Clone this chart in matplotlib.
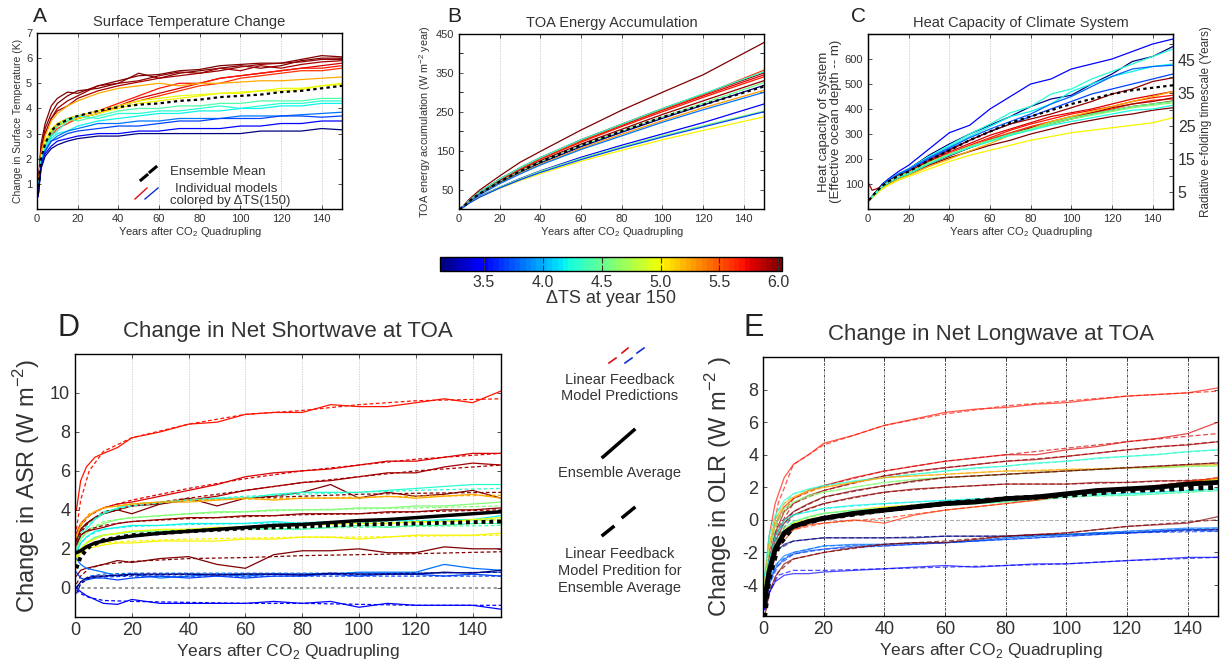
import numpy as np
import matplotlib
matplotlib.use('Agg')
import matplotlib.pyplot as plt
from matplotlib import colors
from matplotlib.colorbar import ColorbarBase
from matplotlib.lines import Line2D

plt.rcParams['font.family'] = ['Liberation Sans', 'DejaVu Sans']
plt.rcParams['mathtext.fontset'] = 'custom'
plt.rcParams['mathtext.rm'] = 'Liberation Sans'
plt.rcParams['axes.unicode_minus'] = False
TXT = '#333333'

# ---------------- data ----------------
years = [0.5, 2, 4, 7, 10, 15, 20, 30, 40, 50, 60, 70, 80, 90, 100, 110, 120, 130, 140, 150]
years_pred = [0.5, 2, 5, 10, 20, 40, 60, 80, 100, 120, 150]
years_toa = [0, 2, 5, 10, 20, 30, 40, 60, 80, 100, 120, 150]

# Panel A: surface temperature change (K), colour value = dTS(150)
temp_dts = [6.1, 6.0, 5.95, 5.9, 5.8, 5.7, 5.6, 5.25, 5.0, 4.95, 4.4, 4.3, 4.2, 3.85, 3.7, 3.5, 3.15]
temp_vals = [
    [0.9, 2.6, 3.4, 4.1, 4.4, 4.65, 4.6, 4.9, 5.1, 5.3, 5.35, 5.5, 5.55, 5.7, 5.75, 5.8, 5.8, 5.95, 6.1, 6.05],
    [0.8, 2.4, 3.2, 3.8, 4.2, 4.5, 4.7, 4.8, 5.0, 5.4, 5.2, 5.4, 5.5, 5.6, 5.7, 5.6, 5.7, 5.9, 6.0, 6.0],
    [0.8, 2.3, 3.0, 3.6, 4.0, 4.3, 4.5, 4.9, 5.0, 5.1, 5.3, 5.45, 5.4, 5.5, 5.65, 5.75, 5.8, 5.85, 5.95, 5.95],
    [0.7, 2.2, 3.0, 3.6, 3.9, 4.1, 4.4, 4.7, 4.9, 5.05, 5.2, 5.3, 5.4, 5.6, 5.5, 5.7, 5.6, 5.75, 5.85, 5.9],
    [0.6, 1.9, 2.5, 3.0, 3.3, 3.5, 3.6, 3.8, 4.1, 4.4, 4.6, 4.8, 5.0, 5.2, 5.3, 5.4, 5.5, 5.6, 5.7, 5.8],
    [0.6, 1.9, 2.6, 3.1, 3.4, 3.6, 3.7, 3.9, 4.2, 4.5, 4.8, 5.0, 5.0, 5.2, 5.3, 5.4, 5.5, 5.6, 5.6, 5.7],
    [0.5, 1.8, 2.4, 2.9, 3.2, 3.4, 3.6, 3.8, 4.1, 4.3, 4.5, 4.7, 4.9, 5.0, 5.2, 5.3, 5.4, 5.5, 5.5, 5.6],
    [0.7, 2.2, 2.9, 3.5, 3.8, 4.1, 4.3, 4.6, 4.8, 4.9, 5.0, 4.9, 5.0, 5.0, 5.05, 5.1, 5.1, 5.15, 5.2, 5.25],
    [0.6, 2.0, 2.6, 3.1, 3.3, 3.5, 3.6, 3.8, 4.0, 4.2, 4.3, 4.4, 4.5, 4.6, 4.6, 4.7, 4.7, 4.75, 4.9, 5.0],
    [0.6, 2.0, 2.7, 3.2, 3.4, 3.6, 3.7, 3.9, 4.1, 4.3, 4.4, 4.5, 4.55, 4.6, 4.65, 4.7, 4.8, 4.8, 4.9, 4.95],
    [0.6, 1.9, 2.5, 3.0, 3.3, 3.6, 3.5, 3.7, 3.9, 4.0, 4.0, 4.1, 4.1, 4.2, 4.2, 4.3, 4.3, 4.3, 4.4, 4.4],
    [0.6, 1.9, 2.4, 2.9, 3.1, 3.5, 3.7, 3.6, 3.8, 3.8, 3.9, 3.9, 4.0, 4.1, 4.0, 4.1, 4.2, 4.2, 4.3, 4.3],
    [0.6, 1.8, 2.4, 2.8, 3.0, 3.1, 3.3, 3.5, 3.6, 3.7, 3.8, 3.8, 3.9, 3.9, 4.0, 4.0, 4.1, 4.1, 4.2, 4.2],
    [0.5, 1.8, 2.3, 2.7, 2.9, 3.1, 3.2, 3.4, 3.4, 3.5, 3.5, 3.6, 3.6, 3.6, 3.7, 3.7, 3.7, 3.75, 3.8, 3.85],
    [0.5, 1.7, 2.3, 2.7, 2.8, 3.0, 3.1, 3.2, 3.3, 3.3, 3.4, 3.5, 3.5, 3.6, 3.6, 3.6, 3.7, 3.7, 3.65, 3.7],
    [0.5, 1.7, 2.2, 2.5, 2.7, 2.8, 2.9, 3.0, 3.0, 3.1, 3.1, 3.2, 3.2, 3.2, 3.3, 3.3, 3.4, 3.4, 3.5, 3.5],
    [0.5, 1.6, 2.1, 2.4, 2.55, 2.7, 2.8, 2.9, 2.9, 3.0, 3.0, 3.0, 3.0, 3.0, 3.0, 3.1, 3.1, 3.1, 3.2, 3.15],
]
temp_mean = [0.6, 2.0, 2.6, 3.1, 3.35, 3.55, 3.7, 3.9, 4.05, 4.15, 4.2, 4.3, 4.35, 4.45, 4.5, 4.55, 4.65, 4.7, 4.8, 4.9]

# Panel B: TOA energy accumulation (W m-2 year)
toa_dts = [6.0, 5.9, 5.8, 5.7, 5.6, 5.95, 4.3, 4.5, 3.2, 5.3, 3.85, 3.5, 4.6, 5.0, 3.7]
toa_vals = [
    [0, 7, 25, 48, 85, 120, 148, 203, 254, 300, 345, 428],
    [0, 6, 22, 43, 77, 106, 132, 178, 218, 258, 295, 350],
    [0, 6, 22, 42, 76, 104, 130, 175, 215, 254, 291, 345],
    [0, 6, 21, 41, 74, 102, 128, 172, 212, 250, 287, 340],
    [0, 6, 21, 42, 75, 104, 130, 176, 217, 256, 294, 357],
    [0, 6, 21, 40, 72, 99, 124, 167, 205, 243, 278, 330],
    [0, 6, 22, 43, 77, 106, 132, 178, 218, 258, 296, 353],
    [0, 5, 20, 39, 70, 97, 121, 163, 200, 237, 272, 325],
    [0, 5, 19, 38, 68, 94, 118, 160, 197, 233, 267, 318],
    [0, 5, 19, 37, 66, 92, 115, 156, 192, 227, 260, 305],
    [0, 5, 18, 36, 65, 90, 113, 153, 188, 223, 255, 300],
    [0, 4, 16, 32, 56, 78, 98, 133, 164, 193, 222, 270],
    [0, 4, 16, 31, 56, 77, 97, 130, 160, 188, 214, 252],
    [0, 4, 15, 30, 53, 73, 91, 123, 151, 178, 202, 237],
    [0, 4, 15, 30, 54, 75, 94, 127, 157, 185, 211, 250],
]
toa_mean = [0, 5, 20, 39, 70, 97, 121, 164, 200, 236, 268, 315]

# Panel C: heat capacity (effective ocean depth, m)
hc_dts = [3.5, 3.15, 4.3, 4.2, 3.8, 3.7, 5.95, 5.8, 5.7, 5.6, 5.9, 6.1, 6.0, 5.25, 5.0, 4.5, 4.6, 4.25]
hc_vals = [
    [35, 50, 70, 100, 120, 150, 175, 240, 305, 335, 400, 450, 500, 520, 560, 580, 600, 630, 660, 680],
    [35, 50, 68, 95, 115, 140, 160, 215, 260, 300, 335, 370, 410, 440, 455, 500, 540, 590, 610, 650],
    [35, 50, 68, 95, 115, 140, 160, 210, 255, 300, 340, 385, 410, 460, 480, 520, 550, 580, 610, 640],
    [35, 50, 68, 95, 115, 140, 160, 210, 250, 290, 330, 370, 390, 420, 470, 500, 530, 550, 570, 580],
    [35, 50, 68, 95, 115, 140, 160, 205, 245, 285, 320, 350, 380, 420, 450, 490, 530, 560, 570, 575],
    [35, 50, 68, 95, 113, 135, 155, 200, 240, 275, 310, 340, 370, 400, 430, 460, 480, 500, 520, 540],
    [35, 50, 68, 92, 110, 133, 150, 195, 235, 275, 310, 340, 360, 380, 405, 430, 460, 480, 510, 525],
    [35, 48, 65, 90, 108, 130, 148, 190, 228, 262, 295, 320, 345, 370, 385, 400, 420, 440, 455, 470],
    [35, 48, 65, 88, 105, 127, 145, 185, 222, 255, 285, 315, 340, 360, 380, 395, 410, 430, 445, 455],
    [40, 45, 65, 88, 105, 127, 145, 185, 220, 250, 280, 305, 330, 350, 370, 385, 400, 420, 435, 440],
    [100, 75, 80, 90, 105, 127, 145, 183, 215, 245, 275, 300, 325, 345, 365, 385, 405, 420, 430, 445],
    [35, 48, 62, 85, 100, 122, 140, 175, 205, 230, 255, 275, 300, 320, 340, 355, 370, 380, 395, 405],
    [35, 48, 63, 86, 102, 124, 142, 180, 212, 245, 275, 300, 320, 340, 360, 380, 395, 410, 420, 432],
    [35, 45, 60, 82, 98, 120, 135, 170, 200, 232, 262, 295, 320, 350, 370, 390, 410, 430, 450, 470],
    [35, 45, 60, 80, 95, 115, 130, 160, 190, 215, 235, 255, 275, 290, 305, 315, 325, 335, 345, 365],
    [35, 48, 65, 90, 108, 130, 145, 185, 220, 250, 275, 300, 320, 345, 365, 380, 395, 410, 420, 430],
    [35, 48, 65, 90, 108, 130, 145, 185, 218, 248, 272, 295, 318, 340, 360, 375, 390, 405, 415, 425],
    [35, 48, 65, 88, 105, 125, 140, 180, 215, 245, 270, 295, 315, 335, 350, 365, 380, 395, 400, 415],
]
hc_mean = [35, 50, 68, 93, 110, 133, 150, 195, 235, 275, 310, 345, 370, 395, 420, 440, 460, 475, 485, 495]

# Panel D: change in absorbed shortwave (W m-2)
asr_dts = [5.7, 5.8, 5.9, 6.1, 4.3, 5.25, 4.6, 5.95, 4.2, 4.4, 5.0, 4.95, 6.0, 3.85, 3.7, 3.15, 3.5]
asr_vals = [
    [4.0, 5.5, 6.2, 6.7, 6.9, 7.2, 7.7, 8.0, 8.4, 8.5, 8.9, 9.0, 9.0, 9.4, 9.3, 9.3, 9.5, 9.7, 9.5, 10.1],
    [2.8, 3.3, 3.6, 3.9, 4.1, 4.3, 4.4, 4.7, 5.0, 5.3, 5.7, 5.9, 6.0, 6.1, 6.3, 6.5, 6.5, 6.7, 6.9, 6.9],
    [2.5, 3.0, 3.3, 3.6, 3.8, 4.0, 4.2, 4.3, 4.5, 4.7, 5.0, 5.2, 5.4, 5.5, 5.7, 5.9, 5.9, 6.2, 6.4, 6.3],
    [2.4, 3.0, 3.3, 3.6, 3.8, 4.0, 3.8, 4.3, 4.6, 4.2, 4.6, 4.7, 4.9, 5.3, 4.6, 4.9, 4.7, 4.8, 5.0, 4.6],
    [2.0, 2.6, 3.0, 3.5, 3.8, 4.1, 4.3, 4.4, 4.5, 4.6, 4.6, 4.8, 4.9, 4.9, 4.9, 5.0, 5.1, 5.2, 5.3, 5.3],
    [2.6, 3.2, 3.6, 3.9, 4.1, 4.2, 4.3, 4.4, 4.4, 4.5, 4.6, 4.5, 4.6, 4.6, 4.6, 4.7, 4.6, 4.7, 4.8, 4.6],
    [2.0, 2.5, 2.8, 3.1, 3.3, 3.5, 3.6, 3.7, 3.8, 3.9, 3.9, 4.0, 4.0, 4.0, 4.1, 4.1, 4.2, 4.2, 4.3, 4.4],
    [2.2, 2.7, 2.9, 3.0, 3.1, 3.3, 3.4, 3.5, 3.6, 3.6, 3.7, 3.7, 3.8, 3.8, 3.8, 3.9, 3.9, 4.0, 4.0, 4.1],
    [1.8, 2.3, 2.6, 2.9, 3.0, 3.1, 3.2, 3.2, 3.3, 3.3, 3.3, 3.4, 3.3, 3.4, 3.3, 3.5, 3.4, 3.5, 3.5, 3.7],
    [1.5, 2.0, 2.3, 2.6, 2.7, 2.8, 2.9, 2.9, 3.0, 3.0, 3.1, 3.0, 3.0, 3.1, 3.2, 3.1, 3.2, 3.2, 3.3, 3.3],
    [1.4, 1.8, 2.0, 2.1, 2.2, 2.3, 2.3, 2.4, 2.4, 2.4, 2.5, 2.5, 2.6, 2.6, 2.5, 2.6, 2.7, 2.7, 2.7, 2.8],
    [1.6, 2.0, 2.3, 2.5, 2.7, 2.8, 2.9, 3.0, 3.0, 3.1, 3.1, 3.2, 3.2, 3.3, 3.3, 3.3, 3.4, 3.4, 3.5, 3.6],
    [0.6, 0.9, 1.0, 1.1, 1.2, 1.4, 1.3, 1.5, 1.6, 1.2, 1.0, 1.7, 1.9, 1.9, 2.0, 1.8, 1.8, 2.1, 2.0, 2.0],
    [1.5, 1.2, 1.0, 0.9, 0.8, 0.6, 0.7, 0.5, 0.6, 0.7, 0.6, 0.7, 0.7, 0.7, 0.8, 0.8, 0.8, 1.2, 1.0, 0.9],
    [0.8, 0.5, 0.4, 0.5, 0.5, 0.4, 0.5, 0.6, 0.5, 0.6, 0.5, 0.6, 0.6, 0.7, 0.6, 0.7, 0.7, 0.6, 0.7, 0.6],
    [0.0, 0.3, 0.5, 0.6, 0.6, 0.65, 0.7, 0.7, 0.7, 0.65, 0.7, 0.7, 0.65, 0.75, 0.7, 0.7, 0.7, 0.8, 0.75, 0.9],
    [0.0, -0.2, -0.4, -0.6, -0.8, -0.85, -0.6, -0.8, -0.8, -0.8, -0.8, -0.7, -0.8, -0.7, -1.0, -0.8, -0.9, -0.9, -0.9, -1.1],
]
asr_pred = [
    [3.0, 4.5, 6.0, 7.0, 7.7, 8.4, 8.9, 9.1, 9.4, 9.6, 9.7],
    [2.5, 3.2, 3.7, 4.1, 4.5, 5.1, 5.6, 6.0, 6.3, 6.6, 6.9],
    [2.3, 2.9, 3.4, 3.8, 4.2, 4.6, 5.0, 5.4, 5.7, 6.0, 6.3],
    [2.0, 2.8, 3.4, 3.9, 4.2, 4.5, 4.6, 4.7, 4.8, 4.85, 4.9],
    [2.2, 2.8, 3.3, 3.9, 4.2, 4.5, 4.7, 4.8, 4.9, 5.0, 5.1],
    [2.6, 3.3, 3.8, 4.1, 4.3, 4.5, 4.55, 4.6, 4.65, 4.7, 4.75],
    [2.0, 2.5, 3.0, 3.4, 3.6, 3.8, 3.9, 4.0, 4.05, 4.1, 4.2],
    [2.2, 2.7, 3.0, 3.2, 3.4, 3.55, 3.65, 3.75, 3.8, 3.9, 4.0],
    [1.8, 2.3, 2.7, 3.0, 3.15, 3.25, 3.3, 3.35, 3.4, 3.45, 3.5],
    [1.5, 2.0, 2.4, 2.7, 2.85, 2.95, 3.0, 3.05, 3.1, 3.15, 3.2],
    [1.5, 1.9, 2.15, 2.3, 2.4, 2.5, 2.55, 2.6, 2.6, 2.65, 2.7],
    [1.6, 2.0, 2.4, 2.7, 2.9, 3.0, 3.1, 3.2, 3.3, 3.35, 3.5],
    [0.2, 0.6, 1.0, 1.2, 1.35, 1.5, 1.55, 1.65, 1.7, 1.75, 1.85],
    [0.0, 0.3, 0.6, 0.7, 0.75, 0.75, 0.75, 0.75, 0.75, 0.75, 0.8],
    [0.0, 0.3, 0.5, 0.55, 0.6, 0.6, 0.6, 0.6, 0.6, 0.6, 0.6],
    [-0.3, 0.2, 0.5, 0.6, 0.65, 0.7, 0.7, 0.7, 0.7, 0.75, 0.8],
    [-0.1, -0.3, -0.5, -0.65, -0.7, -0.75, -0.8, -0.8, -0.85, -0.9, -0.9],
]
asr_mean = [1.8, 1.9, 2.1, 2.3, 2.4, 2.55, 2.65, 2.8, 2.9, 3.0, 3.1, 3.2, 3.25, 3.35, 3.45, 3.5, 3.6, 3.7, 3.8, 3.9]
asr_mean_pred = [1.0, 1.6, 2.1, 2.45, 2.7, 2.9, 3.05, 3.15, 3.25, 3.3, 3.4]

# Panel E: change in outgoing longwave (W m-2)
olr_dts = [5.7, 5.8, 5.9, 4.3, 5.25, 4.6, 6.0, 5.95, 5.0, 4.4, 4.2, 5.6, 3.15, 3.85, 3.7, 6.1, 3.5]
olr_vals = [
    [-4.0, -1.0, 1.0, 2.6, 3.4, 4.0, 4.7, 5.2, 5.8, 6.2, 6.6, 6.8, 6.9, 7.1, 7.2, 7.4, 7.6, 7.7, 7.8, 8.1],
    [-4.5, -2.0, -0.3, 0.8, 1.3, 1.8, 2.1, 2.6, 3.0, 3.3, 3.6, 3.8, 4.0, 4.0, 4.3, 4.5, 4.8, 5.0, 5.3, 6.0],
    [-4.5, -2.5, -0.8, 0.5, 1.0, 1.5, 1.8, 2.3, 2.7, 3.0, 3.2, 3.4, 3.6, 3.7, 3.9, 4.1, 4.3, 4.5, 4.6, 4.8],
    [-3.5, -1.0, 0.3, 1.2, 1.6, 1.9, 2.1, 2.4, 2.6, 2.8, 3.0, 3.2, 3.3, 3.5, 3.6, 3.8, 3.9, 4.0, 4.2, 4.3],
    [-4.0, -1.5, 0.0, 1.0, 1.4, 1.8, 2.0, 2.3, 2.6, 2.7, 2.8, 2.9, 3.0, 3.0, 3.1, 3.1, 3.2, 3.2, 3.3, 3.4],
    [-4.0, -1.8, -0.3, 0.7, 1.1, 1.5, 1.7, 2.0, 2.3, 2.5, 2.6, 2.7, 2.8, 2.9, 3.0, 3.1, 3.2, 3.2, 3.3, 3.3],
    [-4.5, -2.5, -1.0, 0.0, 0.5, 1.0, 1.4, 1.8, 2.1, 2.4, 2.6, 2.7, 2.8, 2.9, 3.0, 3.1, 3.2, 3.3, 3.4, 3.5],
    [-5.0, -3.0, -1.3, -0.2, 0.3, 0.7, 1.0, 1.4, 1.7, 1.9, 2.0, 2.1, 2.2, 2.2, 2.2, 2.3, 2.3, 2.4, 2.4, 2.5],
    [-5.5, -3.5, -1.8, -0.6, -0.2, 0.2, 0.4, 0.6, 0.8, 0.9, 1.0, 1.2, 1.3, 1.4, 1.6, 1.8, 1.9, 2.1, 2.3, 2.5],
    [-5.0, -3.0, -1.5, -0.5, -0.1, 0.2, 0.4, 0.6, 0.7, 0.8, 0.9, 1.0, 1.1, 1.2, 1.4, 1.5, 1.5, 1.6, 1.7, 1.8],
    [-4.5, -2.5, -1.0, 0.0, 0.3, 0.5, 0.7, 0.9, 1.0, 1.1, 1.2, 1.3, 1.3, 1.4, 1.5, 1.6, 1.6, 1.7, 1.8, 1.9],
    [-5.5, -3.5, -2.0, -1.0, -0.6, -0.3, -0.2, 0.0, -0.2, 0.3, 0.6, 0.8, 1.0, 1.2, 1.5, 1.7, 1.9, 2.1, 2.3, 2.6],
    [-5.0, -3.0, -2.0, -1.5, -1.3, -1.2, -1.1, -1.1, -1.1, -1.1, -1.0, -1.0, -1.0, -0.9, -0.9, -0.8, -0.8, -0.7, -0.6, -0.6],
    [-5.5, -3.8, -2.8, -2.2, -2.0, -1.8, -1.6, -1.5, -1.5, -1.4, -1.4, -1.3, -1.1, -1.0, -0.9, -0.8, -0.7, -0.6, -0.5, -0.5],
    [-5.5, -4.0, -3.0, -2.4, -2.1, -1.9, -1.8, -1.6, -1.6, -1.5, -1.4, -1.3, -1.2, -1.1, -1.0, -0.9, -0.8, -0.7, -0.6, -0.7],
    [-6.0, -4.5, -3.5, -2.7, -2.4, -2.2, -2.0, -1.7, -1.5, -1.4, -1.4, -1.2, -1.0, -0.9, -0.8, -0.6, -0.4, -0.3, -0.2, 0.2],
    [-5.5, -4.5, -3.8, -3.4, -3.3, -3.3, -3.2, -3.1, -3.0, -2.9, -2.8, -2.9, -2.8, -2.7, -2.7, -2.6, -2.5, -2.4, -2.3, -2.3],
]
olr_pred = [
    [-5.5, -2.0, 1.0, 3.4, 4.6, 5.8, 6.5, 7.0, 7.3, 7.6, 7.9],
    [-5.0, -2.5, 0.0, 1.3, 2.1, 3.0, 3.6, 4.0, 4.4, 4.8, 5.3],
    [-4.5, -2.5, -0.5, 1.0, 1.8, 2.7, 3.2, 3.6, 3.9, 4.3, 4.8],
    [-3.5, -1.0, 0.6, 1.6, 2.1, 2.6, 3.0, 3.3, 3.6, 3.9, 4.3],
    [-4.0, -1.5, 0.3, 1.4, 2.0, 2.6, 2.8, 3.0, 3.1, 3.2, 3.4],
    [-4.0, -1.8, 0.0, 1.1, 1.7, 2.3, 2.6, 2.8, 3.0, 3.2, 3.3],
    [-4.5, -2.5, -0.7, 0.5, 1.4, 2.1, 2.6, 2.8, 3.0, 3.2, 3.5],
    [-5.0, -3.0, -1.0, 0.3, 1.0, 1.7, 2.0, 2.2, 2.2, 2.3, 2.5],
    [-5.5, -3.5, -1.5, -0.2, 0.4, 0.8, 1.0, 1.3, 1.6, 1.9, 2.5],
    [-5.0, -3.0, -1.2, -0.1, 0.4, 0.7, 0.9, 1.1, 1.4, 1.5, 1.8],
    [-4.5, -2.5, -0.7, 0.3, 0.7, 1.0, 1.2, 1.3, 1.5, 1.6, 1.9],
    [-5.5, -3.5, -1.7, -0.6, -0.2, 0.1, 0.6, 1.0, 1.5, 1.9, 2.6],
    [-5.0, -3.0, -1.8, -1.3, -1.1, -1.1, -1.0, -1.0, -0.9, -0.8, -0.6],
    [-5.5, -3.8, -2.6, -2.0, -1.6, -1.5, -1.4, -1.1, -0.9, -0.7, -0.5],
    [-5.5, -4.0, -2.8, -2.1, -1.8, -1.6, -1.4, -1.2, -1.0, -0.8, -0.7],
    [-6.0, -4.5, -3.2, -2.4, -2.0, -1.5, -1.3, -1.0, -0.8, -0.4, 0.0],
    [-5.5, -4.5, -3.4, -3.1, -3.1, -3.0, -2.9, -2.8, -2.7, -2.5, -2.3],
]
olr_mean = [-5.0, -3.2, -1.8, -0.8, -0.4, -0.1, 0.1, 0.4, 0.6, 0.8, 1.0, 1.1, 1.3, 1.4, 1.6, 1.8, 1.9, 2.0, 2.2, 2.3]
olr_mean_pred = [-6.0, -3.6, -1.6, -0.4, 0.1, 0.6, 1.0, 1.3, 1.5, 1.8, 2.0]

cbar_ticks = [3.5, 4.0, 4.5, 5.0, 5.5, 6.0]

# ---------------- figure ----------------
W, H = 1227, 664
fig = plt.figure(figsize=(W / 100, H / 100), dpi=100)
cmap = plt.get_cmap('jet', 64)
norm = colors.Normalize(vmin=3.13, vmax=6.03)


def rect(x0, y0, x1, y1):
    return [x0 / W, 1 - y1 / H, (x1 - x0) / W, (y1 - y0) / H]


def style(ax, fs, grid_style='light'):
    ax.set_xlim(0, 150)
    ax.set_xticks(range(0, 141, 20))
    ax.tick_params(direction='in', top=True, right=True, labelsize=fs, colors=TXT,
                   length=3, width=0.6)
    ax.tick_params(axis='both', labelcolor=TXT)
    for s in ax.spines.values():
        s.set_linewidth(1.0)
        s.set_color('black')
    for x in range(20, 141, 20):
        if grid_style == 'light':
            ax.axvline(x, color='#c8c8c8', lw=0.6, ls=(0, (1.5, 1.5)), zorder=0)
        else:
            ax.axvline(x, color='#222222', lw=0.6, ls=(0, (3, 1.5, 1, 1.5)), zorder=0)


xlab = r'Years after CO$_2$ Quadrupling'

# ---- Panel A
axA = fig.add_axes(rect(37, 33, 342, 209))
style(axA, 8)
for c, v in zip(temp_dts, temp_vals):
    axA.plot(years, v, color=cmap(norm(c)), lw=0.9)
axA.plot(years, temp_mean, color='black', lw=1.6, ls=(0, (1.5, 1.5)))
axA.set_ylim(0, 7)
axA.set_yticks(range(1, 8))
axA.set_xlabel(xlab, fontsize=8, color=TXT, labelpad=1)
axA.set_ylabel('Change in Surface Temperature (K)', fontsize=7.5, color=TXT, labelpad=2)
axA.set_title('Surface Temperature Change', fontsize=10.5, color=TXT, pad=5)
fig.text(33 / W, 1 - 16 / H, 'A', fontsize=15, color='#222222', va='center')


def axpt(px, py):
    return ((px - 37) / 305, (209 - py) / 176)


p1, p2 = axpt(141, 180), axpt(147, 175)
axA.plot([p1[0], p2[0]], [p1[1], p2[1]], transform=axA.transAxes, color='black', lw=2.2)
p1, p2 = axpt(150, 172), axpt(156, 167)
axA.plot([p1[0], p2[0]], [p1[1], p2[1]], transform=axA.transAxes, color='black', lw=2.2)
p1, p2 = axpt(135, 199), axpt(147, 188)
axA.plot([p1[0], p2[0]], [p1[1], p2[1]], transform=axA.transAxes, color='#e01010', lw=1)
p1, p2 = axpt(145, 199), axpt(158, 188)
axA.plot([p1[0], p2[0]], [p1[1], p2[1]], transform=axA.transAxes, color='#1030d0', lw=1)
axA.text(*axpt(170, 172), 'Ensemble Mean', transform=axA.transAxes, fontsize=9.5,
         color=TXT, va='center')
axA.text(*axpt(175, 189), 'Individual models', transform=axA.transAxes, fontsize=9.5,
         color=TXT, va='center')
axA.text(*axpt(170, 201), 'colored by ΔTS(150)', transform=axA.transAxes, fontsize=9.5,
         color=TXT, va='center')

# ---- Panel B
axB = fig.add_axes(rect(459, 34, 764, 209))
style(axB, 8)
for c, v in zip(toa_dts, toa_vals):
    axB.plot(years_toa, v, color=cmap(norm(c)), lw=0.9)
axB.plot(years_toa, toa_mean, color='black', lw=1.6, ls=(0, (1.5, 1.5)))
axB.set_ylim(0, 450)
axB.set_yticks([50, 150, 250, 350, 450])
axB.set_yticks([100, 200, 300, 400], minor=True)
axB.tick_params(which='minor', direction='in', right=True, length=3, width=0.6)
axB.set_xlabel(xlab, fontsize=8, color=TXT, labelpad=1)
axB.set_ylabel(r'TOA energy accumulation (W m$^{-2}$ year)', fontsize=7.8, color=TXT, labelpad=2)
axB.set_title('TOA Energy Accumulation', fontsize=10.5, color=TXT, pad=5)
fig.text(447 / W, 1 - 16 / H, 'B', fontsize=15, color='#222222', va='center')

# ---- Panel C
axC = fig.add_axes(rect(868, 34, 1173, 209))
style(axC, 8)
axC.tick_params(right=False)
for c, v in zip(hc_dts, hc_vals):
    axC.plot(years, v, color=cmap(norm(c)), lw=0.9)
axC.plot(years, hc_mean, color='black', lw=1.6, ls=(0, (1.5, 1.5)))
axC.set_ylim(0, 700)
axC.set_yticks(range(100, 601, 100))
axC.set_xlabel(xlab, fontsize=8, color=TXT, labelpad=1)
axC.set_ylabel('Heat capacity of system\n(Effective ocean depth -- m)', fontsize=9.5,
               color=TXT, labelpad=2, linespacing=1.0)
axC.set_title('Heat Capacity of Climate System', fontsize=10.5, color=TXT, pad=5)
fig.text(851 / W, 1 - 16 / H, 'C', fontsize=15, color='#222222', va='center')
axC2 = axC.twinx()
axC2.set_ylim(0, 53)
axC2.set_yticks([5, 15, 25, 35, 45])
axC2.set_yticks([10, 20, 30, 40, 50], minor=True)
axC2.tick_params(which='both', direction='in', length=3, width=0.6, labelsize=11.5,
                 colors=TXT)
axC2.set_ylabel('Radiative e-folding timescale (Years)', fontsize=8.5, color=TXT, labelpad=3)

# ---- Colorbar
cax = fig.add_axes(rect(440, 257, 782, 271))
cb = ColorbarBase(cax, cmap=cmap, norm=norm, orientation='horizontal', ticks=cbar_ticks)
cb.ax.tick_params(direction='in', length=4, width=0.8, top=True, bottom=True,
                  labelsize=11.5, colors=TXT, pad=3)
cb.ax.tick_params(labelcolor=TXT)
cb.set_ticklabels(['%.1f' % t for t in cbar_ticks])
cb.outline.set_linewidth(1.0)
cb.set_label('ΔTS at year 150', fontsize=13, color=TXT, labelpad=0)

# ---- Panel D
axD = fig.add_axes(rect(75, 354, 501, 617))
style(axD, 13)
for c, v, p in zip(asr_dts, asr_vals, asr_pred):
    col = cmap(norm(c))
    axD.plot(years, v, color=col, lw=0.9)
    axD.plot(years_pred, p, color=col, lw=0.9, ls=(0, (3, 2)))
axD.axhline(0, color='#999999', lw=1.5, ls=(0, (1.5, 1.5)), zorder=1)
axD.plot(years, asr_mean, color='black', lw=2.5)
axD.plot(years_pred, asr_mean_pred, color='black', lw=2.8, ls=(0, (1, 1)))
axD.set_ylim(-1.5, 12)
axD.set_yticks(range(0, 11, 2))
axD.set_xlabel(xlab, fontsize=12.5, color=TXT, labelpad=2)
axD.set_ylabel(r'Change in ASR (W m$^{-2}$)', fontsize=17, color=TXT, labelpad=6)
axD.set_title('Change in Net Shortwave at TOA', fontsize=16, color=TXT, pad=12)
fig.text(57 / W, 1 - 328 / H, 'D', fontsize=22, color='#222222', va='center')

# ---- Panel E
axE = fig.add_axes(rect(763, 357, 1218, 616))
style(axE, 13, grid_style='dark')
for c, v, p in zip(olr_dts, olr_vals, olr_pred):
    col = cmap(norm(c))
    axE.plot(years, v, color=col, lw=0.9, alpha=0.7)
    axE.plot(years_pred, p, color=col, lw=0.9, ls=(0, (4, 2)), alpha=0.7)
axE.axhline(0, color='#aaaaaa', lw=0.7, ls=(0, (4, 2)), zorder=0)
axE.plot(years, olr_mean, color='black', lw=3.5)
axE.plot(years_pred, olr_mean_pred, color='black', lw=3.5, ls=(0, (1, 1)))
axE.set_ylim(-5.9, 10)
axE.set_yticks(range(-4, 9, 2))
axE.set_xlabel(xlab, fontsize=12.5, color=TXT, labelpad=2)
axE.set_ylabel(r'Change in OLR (W m$^{-2}$ )', fontsize=17, color=TXT, labelpad=6)
axE.set_title('Change in Net Longwave at TOA', fontsize=16, color=TXT, pad=12)
fig.text(744 / W, 1 - 328 / H, 'E', fontsize=22, color='#222222', va='center')


# ---- Middle legend
def fline(x0, y0, x1, y1, **kw):
    fig.add_artist(Line2D([x0 / W, x1 / W], [1 - y0 / H, 1 - y1 / H], **kw))


fline(609, 363, 616, 358, color='#e01010', lw=1.2)
fline(622, 353, 628, 348, color='#e01010', lw=1.2)
fline(625, 363, 632, 358, color='#1030d0', lw=1.2)
fline(637, 353, 644, 348, color='#1030d0', lw=1.2)
fig.text(620 / W, 1 - 388 / H, 'Linear Feedback\nModel Predictions', fontsize=10.5,
         color=TXT, ha='center', va='center', linespacing=1.25)
fline(603, 457, 634, 430, color='black', lw=2.5)
fig.text(620 / W, 1 - 473 / H, 'Ensemble Average', fontsize=10.5, color=TXT,
         ha='center', va='center')
fline(603, 535, 613, 527, color='black', lw=2.5)
fline(623, 517, 634, 508, color='black', lw=2.5)
fig.text(620 / W, 1 - 571 / H, 'Linear Feedback\nModel Predition for\nEnsemble Average',
         fontsize=10.5, color=TXT, ha='center', va='center', linespacing=1.25)

fig.savefig('out.png', dpi=100)
